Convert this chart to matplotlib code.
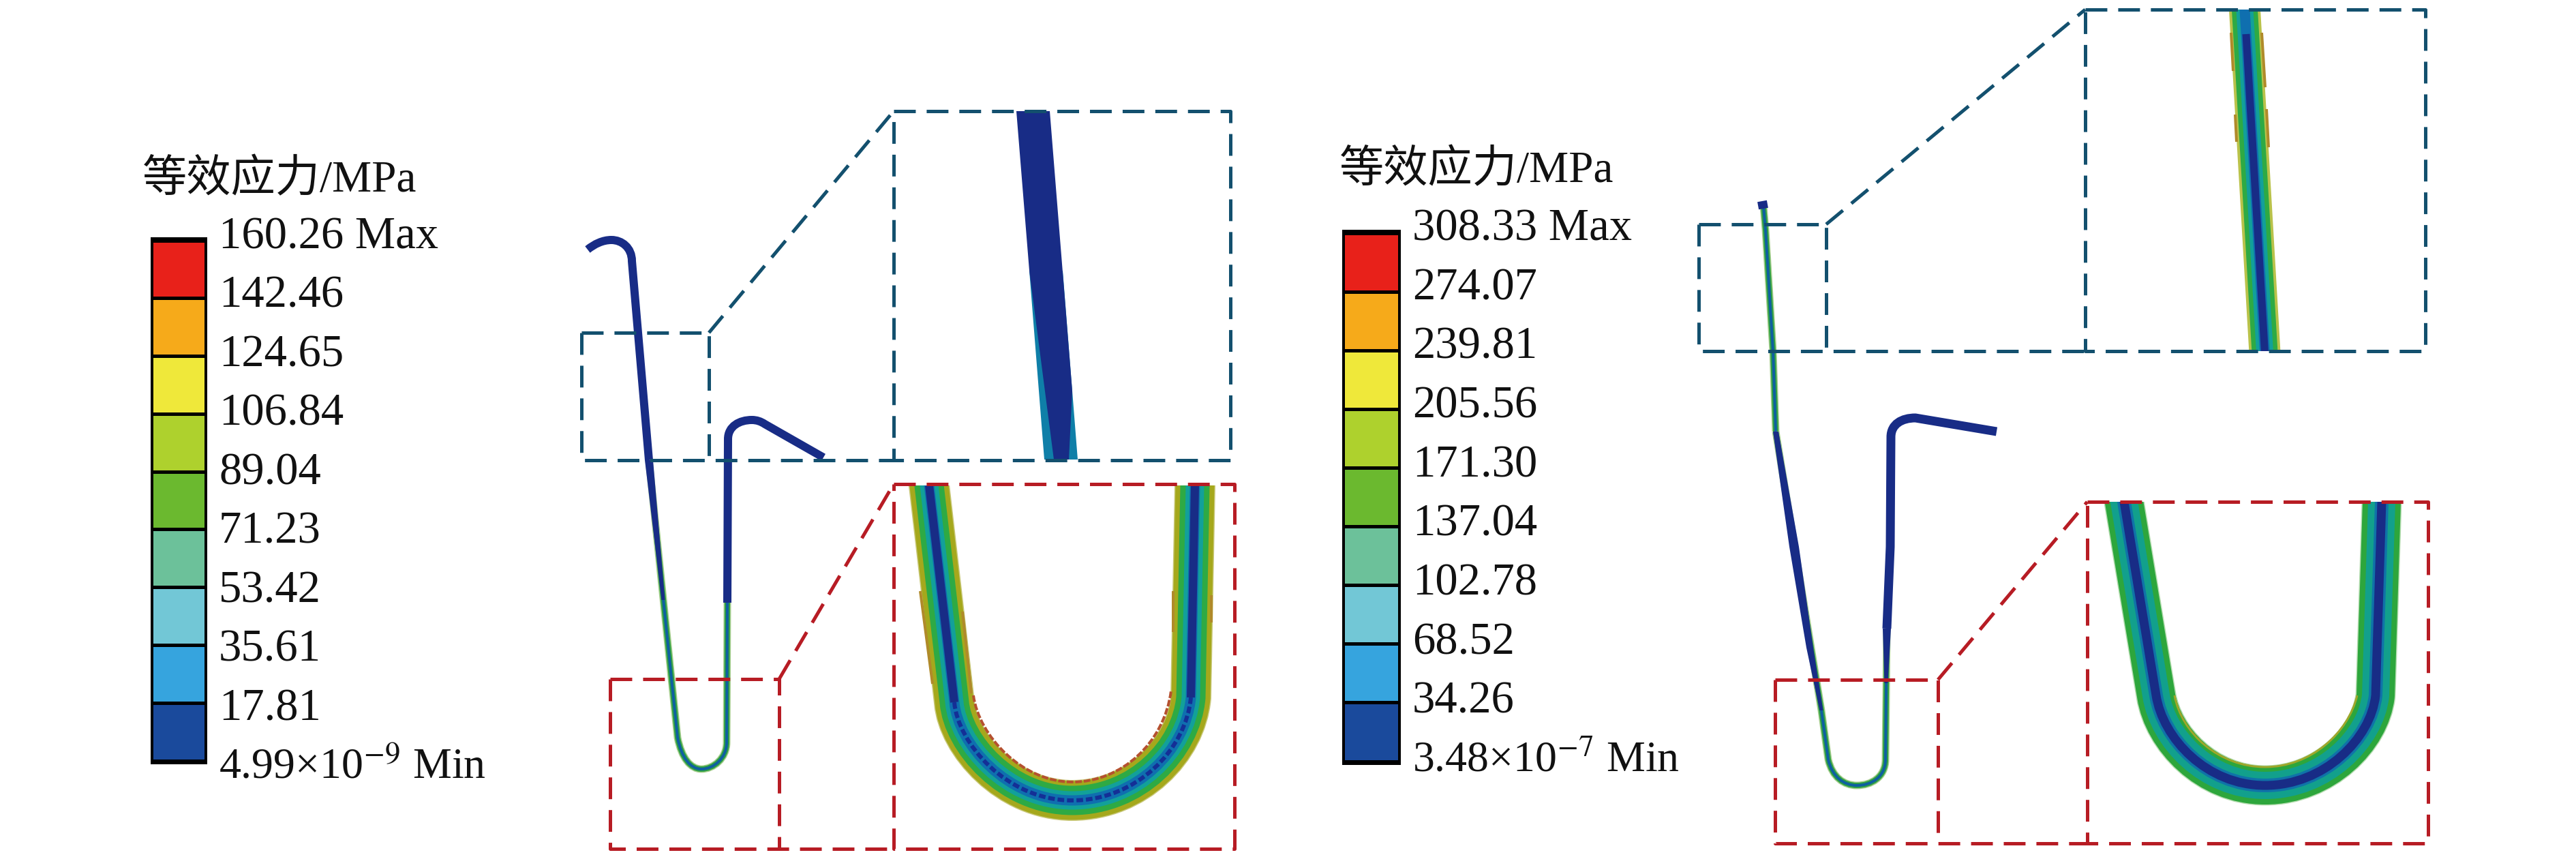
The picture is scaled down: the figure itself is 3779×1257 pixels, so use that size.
import matplotlib
matplotlib.use('Agg')
import matplotlib.pyplot as plt
from matplotlib.path import Path
from matplotlib.patches import PathPatch, Polygon, Rectangle

plt.rcParams['lines.scale_dashes'] = False
plt.rcParams['mathtext.fontset'] = 'stix'
plt.rcParams['font.family'] = ['Liberation Serif', 'Noto Sans CJK SC']

# legend values
title = '等效应力/MPa'
labels_a = ['160.26 Max', '142.46', '124.65', '106.84', '89.04', '71.23', '53.42',
            '35.61', '17.81', r'4.99×10$^{-9}$ Min']
labels_b = ['308.33 Max', '274.07', '239.81', '205.56', '171.30', '137.04', '102.78',
            '68.52', '34.26', r'3.48×10$^{-7}$ Min']
cell_colors = ['#E8211A', '#F6AA1A', '#EFE83A', '#AED12D', '#6BB92F',
               '#6CC19A', '#72C7D6', '#36A4DE', '#1A4A9C']

NAVY = '#182C86'
BLUE_LINE = '#13506E'
RED_LINE = '#B71C24'

# contour bands, outer to inner: (width px, colour)
bands_u_a = [(60, '#C9C878'), (57, '#A5A81C'), (43, '#2EAA44'), (27, '#12A09A'), (15, '#0F6FAF')]
bands_u_b = [(59, '#B5DDB0'), (56, '#2DA63C'), (40, '#12A08C'), (20, '#0F73A8')]
bands_slim = [(46, '#B9C24A'), (38, '#2EAA44'), (25, '#12A09A'), (15, '#0F6FAF')]
bands_thin = [(11, '#A8CF90'), (8, '#2EA043'), (4, '#0F5FA0')]

# centre lines (pixels), M move, L line, C bezier vertex
hook_a = ([(862, 366), (872, 358), (884, 352), (897, 352), (912, 352), (927, 363), (927, 383), (952, 675)],
          'MCCCCCCL')
u_a = ([(952, 675), (994, 1082), (1000, 1112), (1013, 1128), (1029, 1128), (1047, 1128), (1066, 1112), (1066, 1089), (1067, 884)],
       'MLCCCCCCL')
hook_a2 = ([(1067, 884), (1068, 644), (1068, 625), (1085, 616), (1103, 616), (1110, 616), (1116, 618), (1122, 622), (1208, 671)],
           'MLCCCCCCL')
leg_b_top = ([(2587, 302), (2590, 337), (2601, 515), (2605, 633)], 'MLLL')
u_b = ([(2605, 633), (2672, 1042), (2682, 1114), (2688, 1140), (2705, 1152), (2724, 1152), (2745, 1152), (2766, 1140), (2766, 1114), (2768, 922)],
       'MLLCCCCCCL')
hook_b = ([(2768, 922), (2773, 802), (2774, 641), (2774, 622), (2790, 613), (2810, 613), (2929, 633)], 'MLLCCCL')

# (x, y, width) along the parts that narrow
taper_a = [(952, 675, 12), (973, 880, 5)]
taper_b = [(2605, 633, 8), (2632, 802, 14), (2655, 950, 10), (2672, 1042, 5)]
taper_b2 = [(2768, 922, 12), (2767, 1002, 5)]

big_u_a = ([(1360, 690), (1363, 712), (1400, 1030), (1405, 1090), (1477, 1174), (1573, 1174), (1667, 1174), (1740, 1100), (1747, 1023), (1753, 712), (1753, 690)],
           'MLLCCCCCCLL')
big_u_a_bend = ([(1400, 1030), (1405, 1090), (1477, 1174), (1573, 1174), (1667, 1174), (1740, 1100), (1747, 1023)], 'MCCCCCC')
big_u_a_inner = ([(1428, 1020), (1436, 1080), (1500, 1147), (1573, 1147), (1645, 1147), (1708, 1090), (1718, 1013)], 'MCCCCCC')
brown_edges = [((1350, 867), (1368, 1003)), ((1412, 897), (1425, 1017)), ((1721, 867), (1721, 927)),
               ((1777, 873), (1777, 913)), ((3273, 48), (3276, 104)), ((3279, 168), (3281, 208)),
               ((3318, 48), (3323, 128)), ((3325, 160), (3328, 216))]
big_u_b = ([(3112, 712), (3116, 736), (3163, 1020), (3173, 1083), (3237, 1152), (3323, 1152), (3410, 1152), (3478, 1083), (3485, 1020), (3494, 736), (3495, 712)],
           'MLLCCCCCCLL')
big_u_b_inner = ([(3190, 1020), (3200, 1075), (3255, 1125), (3323, 1125), (3390, 1125), (3445, 1075), (3458, 1020)], 'MCCCCCC')
slim_b = ([(3291, -20), (3325, 560)], 'ML')
slim_b_core = ([(3295, 50), (3325, 560)], 'ML')

# left zoom of the straight part
straight_a_edge = [(1510, 397), (1559, 397), (1581, 674), (1532, 674)]
straight_a_core = [(1491, 163), (1540, 163), (1573, 574), (1568, 674), (1546, 674), (1510, 397)]

SEG = {'M': Path.MOVETO, 'L': Path.LINETO, 'C': Path.CURVE4}


def pt(px):
    return px * 72 / 100


def stroke(ax, line, width, color, z=3, dashes=None, clip=None):
    path = Path(line[0], [SEG[c] for c in line[1]])
    patch = PathPatch(path, fill=False, edgecolor=color, lw=pt(width), capstyle='butt',
                      joinstyle='round', zorder=z)
    if dashes:
        patch.set_linestyle((0, dashes))
    ax.add_patch(patch)
    if clip:
        patch.set_clip_path(Rectangle((clip[0], clip[1]), clip[2] - clip[0], clip[3] - clip[1],
                                      transform=ax.transData))


def taper(ax, pts, color=NAVY, z=4):
    left = [(x - w / 2, y) for x, y, w in pts]
    right = [(x + w / 2, y) for x, y, w in pts]
    ax.add_patch(Polygon(left + right[::-1], color=color, lw=0, zorder=z))


def dashed(ax, xs, ys, color):
    ax.plot(xs, ys, color=color, lw=pt(5), dashes=(23, 11.5), dash_capstyle='butt', zorder=6)


def zoom_frame(ax, small, big, color):
    x0, x1, y0, y1 = small
    X0, X1, Y0, Y1 = big
    dashed(ax, [x0, x1, x1], [y0, y0, y1], color)
    dashed(ax, [x0, x0, X0], [y0, y1, y1], color)
    dashed(ax, [x1, X0], [y0, Y0], color)
    dashed(ax, [X0, X1, X1, X0, X0], [Y0, Y0, Y1, Y1, Y0], color)


def legend(ax, left, right, top, bottom, label_x, label_top, label_bottom, labels, title_xy):
    ax.text(title_xy[0], title_xy[1], title, fontsize=47, va='center', ha='left', color='#111111')
    step = (bottom - top) / len(cell_colors)
    ax.bar(left, bottom - top + 10, width=right - left + 8, bottom=top - 5, align='edge',
           color='black', zorder=2)
    for i, col in enumerate(cell_colors):
        ax.bar(left + 4, step - 5, width=right - left, bottom=top + i * step + 2.5, align='edge',
               color=col, zorder=3)
    lstep = (label_bottom - label_top) / (len(labels) - 1)
    for i, lab in enumerate(labels):
        size = 46 if '$' in lab else 48
        ax.text(label_x, label_top + i * lstep, lab, fontsize=size, va='center', ha='left', color='#111111')


fig = plt.figure(figsize=(37.8, 12.57), dpi=100)
ax = fig.add_axes([0, 0, 1, 1])
ax.set_xlim(0, 3780)
ax.set_ylim(1257, 0)
ax.axis('off')

legend(ax, 221, 296, 353, 1116, 321, 348, 1126, labels_a, (209, 265))
legend(ax, 1969, 2047, 342, 1117, 2072, 336, 1116, labels_b, (1965, 251))

# left model
stroke(ax, hook_a, 12, NAVY)
for w, c in bands_thin:
    stroke(ax, u_a, w, c)
taper(ax, taper_a)
stroke(ax, hook_a2, 12, NAVY)

# left model zoom of the straight part
ax.add_patch(Polygon(straight_a_edge, color='#0F7FA8', lw=0, zorder=3))
ax.add_patch(Polygon(straight_a_core, color=NAVY, lw=0, zorder=4))

# left model zoom of the bend
clip_a = (1311, 712, 1811, 1245)
for w, c in bands_u_a:
    stroke(ax, big_u_a, w, c, clip=clip_a)
stroke(ax, ([big_u_a[0][1], big_u_a[0][2]], 'ML'), 12, NAVY)
stroke(ax, ([big_u_a[0][-3], big_u_a[0][-2]], 'ML'), 12, NAVY)
stroke(ax, big_u_a_bend, 6, '#142F96', dashes=(7, 3))
stroke(ax, big_u_a_inner, 4, '#B5512F', z=4, dashes=(7, 2))
for a, b in brown_edges:
    ax.plot([a[0], b[0]], [a[1], b[1]], color='#B08A2A', lw=pt(4), zorder=4, solid_capstyle='butt')

# right model
for w, c in bands_thin:
    stroke(ax, leg_b_top, w, c)
stroke(ax, ([(2585, 295), (2587, 306)], 'ML'), 14, NAVY, z=4)
for w, c in bands_thin:
    stroke(ax, u_b, w, c)
taper(ax, taper_b)
taper(ax, taper_b2)
stroke(ax, hook_b, 13, NAVY)

# right model zoom of the straight part
clip_slim = (3059, 14, 3558, 515)
for w, c in bands_slim:
    stroke(ax, slim_b, w, c, clip=clip_slim)
stroke(ax, slim_b_core, 11, NAVY, clip=clip_slim)

# right model zoom of the bend
clip_b = (3062, 736, 3562, 1237)
for w, c in bands_u_b:
    stroke(ax, big_u_b, w, c, clip=clip_b)
stroke(ax, big_u_b, 13, NAVY, clip=clip_b)
stroke(ax, big_u_b_inner, 3, '#9FA62A', z=4)

zoom_frame(ax, (853, 1040, 488, 675), (1311, 1805, 163, 675), BLUE_LINE)
zoom_frame(ax, (895, 1143, 996, 1245), (1311, 1811, 710, 1245), RED_LINE)
zoom_frame(ax, (2492, 2679, 329, 515), (3059, 3558, 14, 515), BLUE_LINE)
zoom_frame(ax, (2604, 2843, 997, 1237), (3062, 3562, 736, 1237), RED_LINE)

fig.savefig('out.png', dpi=100, facecolor='white')
